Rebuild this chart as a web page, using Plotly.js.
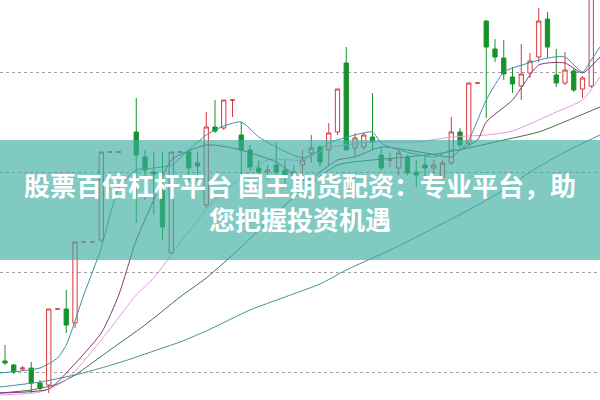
<!DOCTYPE html>
<html><head><meta charset="utf-8">
<script src="https://cdn.plot.ly/plotly-3.0.1.min.js"></script>
<style>html,body{margin:0;padding:0;background:#fff}#chart{width:600px;height:400px}</style>
</head><body><div id="chart"></div>
<script>
// candle index positions
const days = [0,1,2,3,4,5,6,7,8,9,10,11,12,13,15,16,17,18,19,20,21,22,23,24,25,26,27,28,29,30,31,32,33,34,35,36,37,38,39,40,41,42,43,44,45,46,47,48,49,50,51,52,53,54,55,56,57,58,59,60,61,62,63,64,65,66,67];
const openP  = [39,35,31,32,17,15,91,91,77,158,158,160,248,248,268,243,228,210,147,248,248,237,195,273,272,300,265,250,232,228,235,230,222,235,247,253,250,268,337,252,253,263,245,240,232,243,228,235,232,223,237,268,257,317,379,351,342,323,314,327,343,381,325,317,329,311,314];
const highP  = [55,36,34,38,20,91,91,110,158,158,158,248,248,248,302,250,248,248,248,248,250,248,288,300,300,300,278,255,240,235,257,240,235,250,265,255,277,311,353,267,267,307,253,247,250,245,240,245,240,240,283,272,317,317,380,361,360,333,356,347,392,388,351,348,332,324,430];
const lowP   = [35,26,29,7,10,7,91,67,72,158,158,158,248,248,177,200,185,160,147,248,215,220,192,267,270,283,225,230,222,220,220,215,210,225,237,233,235,265,250,243,250,250,230,233,225,225,213,223,225,220,235,252,255,317,282,338,320,307,300,322,338,342,313,315,308,302,312];
const closeP = [37,28,32,17,12,91,91,75,158,158,158,248,248,248,245,230,226,173,248,248,232,234,273,269,300,300,250,233,228,230,228,225,228,240,252,238,267,311,250,262,265,258,232,240,247,227,225,232,235,237,268,255,317,317,353,343,326,316,326,339,379,353,317,330,310,322,405];

// moving average lines
const ma5X  = [-0.6,4,6,7,9,11,12,13,15,17,19,21,23,25,27,29,31,34,36,37,40,42,43,45,49,51,52,53,55,57,58,62,64,66,67,68];
const ma5Y  = [27,32,42,55,105,152,185,212,230,232,235,250,265,274,278,263,253,242,250,257,265,268,257,250,243,250,250,260,300,328,332,342,343,328,340,353];
const ma10X = [-0.6,5,7,11,13,15,17,19,23,26,31,34,35,38,40,43,48,51,52,54,55,58,61,64,66,68];
const ma10Y = [7,11,27,67,105,160,200,240,255,252,238,220,222,240,243,253,247,243,250,260,278,300,335,337,327,343];
const ma20X = [-0.6,4,7,11,15,17,19,20,24,30,34,37,42,47,51,55,58,61,63,66,68];
const ma20Y = [5,8,20,60,105,122,145,157,200,240,240,252,258,258,263,265,269,280,288,300,323];
const ma60X = [-0.6,3,6,8,12,16,20,23,27,31,34,38,42,46,50,54,57,61,65,68];
const ma60Y = [7,10,16,25,50,75,103,122,153,187,210,235,240,243,247,254,260,268,282,293];
const ma120X = [-0.6,4,8,11,14,17,20,23,28,32,36,39,42,45,49,53,57,60,64,68];
const ma120Y = [13,18,25,32,40,49,58,69,90,103,116,130,142,154,172,190,210,228,248,265];

const lineTrace = (x, y, color) => ({type:'scatter', mode:'lines', x:x, y:y, line:{color:color, width:1, shape:'spline', smoothing:0.6}, hoverinfo:'skip'});

const traces = [
  lineTrace(ma120X, ma120Y, '#3f9498'),
  lineTrace(ma60X, ma60Y, '#3d733d'),
  lineTrace(ma20X, ma20Y, '#e59ae3'),
  lineTrace(ma10X, ma10Y, '#7e3a70'),
  lineTrace(ma5X, ma5Y, '#3a90a6'),
  {type:'candlestick', x:days, open:openP, high:highP, low:lowP, close:closeP,
   increasing:{line:{color:'#d8383e', width:1}, fillcolor:'#ffffff'},
   decreasing:{line:{color:'#17922b', width:1}, fillcolor:'#17922b'},
   whiskerwidth:0, hoverinfo:'skip'}
];

const layout = {
  width:600, height:400, margin:{l:0,r:0,t:0,b:0},
  paper_bgcolor:'#ffffff', plot_bgcolor:'#ffffff', showlegend:false, hovermode:false,
  xaxis:{range:[-0.571,68], showgrid:false, zeroline:false, showticklabels:false, ticks:'', rangeslider:{visible:false}, fixedrange:true},
  yaxis:{range:[0,400], tick0:28, dtick:100, showgrid:true, griddash:'dot', gridcolor:'#a0a0a0', gridwidth:1, zeroline:false, showticklabels:false, ticks:'', fixedrange:true},
  shapes:[{type:'rect', xref:'paper', yref:'paper', x0:0, x1:1, y0:0.35, y1:0.65, fillcolor:'rgba(60,173,161,0.65)', line:{width:0}, layer:'above'}],
  annotations:[{xref:'paper', yref:'paper', x:0.5, y:0.496, xanchor:'center', yanchor:'middle', showarrow:false, align:'center',
    text:'股票百倍杠杆平台 国王期货配资：专业平台，助<br>您把握投资机遇',
    font:{family:'Noto Sans CJK SC', size:26, color:'#ffffff', weight:700}}]
};
Plotly.newPlot('chart', traces, layout, {staticPlot:true, displayModeBar:false});
</script></body></html>
